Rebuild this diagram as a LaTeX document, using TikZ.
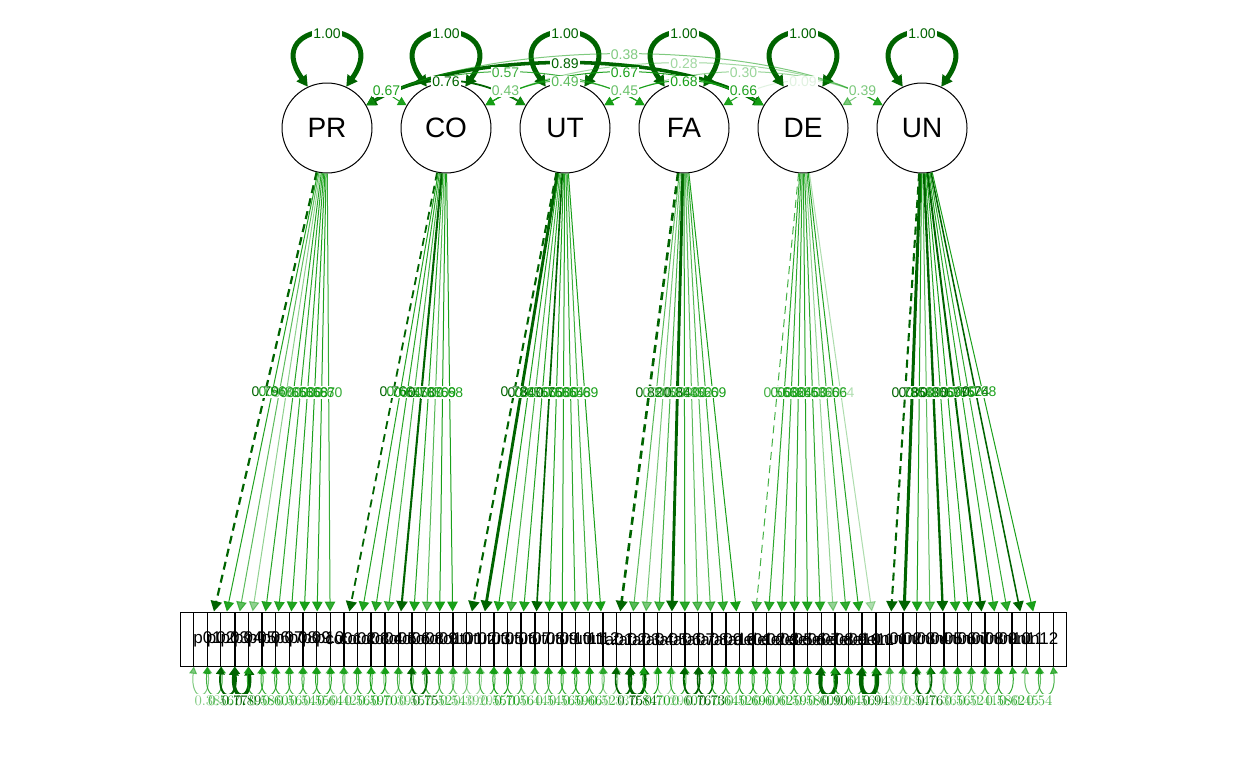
\documentclass[tikz,border=0pt]{standalone}
\usepackage{fontspec}
\setmainfont{Liberation Sans}
\usetikzlibrary{arrows.meta}
\definecolor{dkg}{RGB}{0,100,0}
\definecolor{mg}{RGB}{20,158,20}
\newcommand\setw[1]{%
  \pgfmathtruncatemacro\isdark{(#1>=0.7)}%
  \ifnum\isdark=1\relax
    \pgfmathsetmacro\ewidth{0.75*(1+4*(#1-0.7)/0.3)}%
    \def\ecol{dkg}\def\eop{1}%
  \else
    \def\ewidth{0.75}\def\ecol{mg}%
    \pgfmathsetmacro\eop{#1/0.7}%
  \fi}
\def\items{p01/PR/0.79/fx/0,p02/PR/0.66/fr/1,p03/PR/0.48/fr/2,p04/PR/0.33/fr/3,p05/PR/0.65/fr/4,p06/PR/0.63/fr/5,p07/PR/0.66/fr/6,p08/PR/0.68/fr/7,p09/PR/0.67/fr/8,p10/PR/0.60/fr/9,%
co01/CO/0.76/fx/10,co02/CO/0.66/fr/11,co03/CO/0.64/fr/12,co04/CO/0.55/fr/13,co05/CO/0.78/fr/14,co06/CO/0.67/fr/15,co08/CO/0.50/fr/16,co09/CO/0.69/fr/17,co10/CO/0.68/fr/18,%
ut01/UT/0.78/fx/19,ut02/UT/0.84/fr/20,ut03/UT/0.67/fr/21,ut05/UT/0.55/fr/22,ut06/UT/0.66/fr/23,ut07/UT/0.75/fr/24,ut08/UT/0.68/fr/25,ut09/UT/0.66/fr/26,ut10/UT/0.64/fr/27,ut11/UT/0.58/fr/28,ut12/UT/0.69/fr/29,%
fa01/FA/0.82/fx/30,fa02/FA/0.50/fr/31,fa03/FA/0.40/fr/32,fa04/FA/0.55/fr/33,fa05/FA/0.84/fr/34,fa06/FA/0.63/fr/35,fa07/FA/0.49/fr/36,fa08/FA/0.52/fr/37,fa09/FA/0.60/fr/38,fa10/FA/0.69/fr/39,%
de01/DE/0.56/fx/40,de02/DE/0.63/fr/41,de03/DE/0.62/fr/42,de05/DE/0.64/fr/43,de06/DE/0.65/fr/44,de07/DE/0.63/fr/45,de08/DE/0.32/fr/46,de09/DE/0.60/fr/47,de10/DE/0.66/fr/48,de11/DE/0.24/fr/49,%
un01/UN/0.78/fx/50,un02/UN/0.85/fr/51,un03/UN/0.68/fr/52,un04/UN/0.49/fr/53,un05/UN/0.80/fr/54,un06/UN/0.66/fr/55,un07/UN/0.69/fr/56,un08/UN/0.77/fr/57,un09/UN/0.65/fr/58,un10/UN/0.62/fr/59,un11/UN/0.74/fr/60,un12/UN/0.68/fr/61}
\def\covs{PR/CO/1/0.67/1,PR/UT/2/0.76/2,PR/FA/3/0.57/3,PR/DE/4/0.89/4,PR/UN/5/0.38/5,CO/UT/1/0.43/6,CO/FA/2/0.49/7,CO/DE/3/0.67/8,CO/UN/4/0.28/9,UT/FA/1/0.45/10,UT/DE/2/0.68/11,UT/UN/3/0.30/12,FA/DE/1/0.66/13,FA/UN/2/0.09/14,DE/UN/1/0.39/15}
\tikzset{
  ed/.style={draw=\ecol, draw opacity=\eop, fill opacity=\eop, line width=\ewidth pt},
  fx/.style={dash pattern=on 6pt off 4pt},
  fr/.style={},
  ltip/.style={-{Triangle[length=7pt 0.5,width=7.5pt 0.5]}},
  dtip/.style={{Triangle[length=6pt 0.6,width=6.5pt 0.6]}-{Triangle[length=6pt 0.6,width=6.5pt 0.6]}},
  rtip/.style={{Triangle[length=5pt 0.6,width=5.5pt 0.6]}-{Triangle[length=5pt 0.6,width=5.5pt 0.6]}},
  lat/.style={circle, draw=black, line width=0.75pt, fill=white, minimum size=67.5pt, inner sep=0pt, font=\fontsize{21}{21}\selectfont},
  man/.style={rectangle, draw=black, line width=0.75pt, minimum width=41.25pt, minimum height=40.5pt, inner sep=0pt, font=\fontsize{12.75}{13}\selectfont},
  elab/.style={font=\fontsize{10.5}{11}\selectfont, inner sep=0.8pt},
  rlab/.style={font=\fontsize{10.5}{11}\selectfont, inner sep=0.8pt},
}
\begin{document}
\begin{tikzpicture}[x=0.75pt,y=-0.75pt]
\useasboundingbox (0,0) rectangle (1248,768);
\fill[white] (0,0) rectangle (1248,768);
% latent variables
\foreach \lname/\lx in {PR/327,CO/446,UT/565,FA/684,DE/803,UN/922}
  \node[lat] (\lname) at (\lx,128) {\lname};
% manifest variables
\foreach \nm/\lt/\val/\st/\idx in \items
  \node[man] (\nm) at ({207.5+13.639*\idx},639) {\nm};
% loadings
\foreach \nm/\lt/\val/\st/\idx in \items {
  \setw{\val}
  \draw[ed, \st, ltip] (\lt) -- coordinate[pos=0.5] (L\idx) (\nm);
}
% residual variances
\foreach \nm/\lt/\val/\st/\idx in \items {
  \pgfmathsetmacro\res{1-\val*\val}
  \setw{\res}
  \ifnum\idx>59
    \draw[ed, rtip] (\nm.south) .. controls +(-4,36) and +(4,36) .. ([xshift=10.2pt]\nm.south);
  \else
    \draw[ed, rtip] (\nm.south) .. controls +(4,36) and +(-4,36) .. ([xshift=-10.2pt]\nm.south);
  \fi
}
% latent variances
\foreach \lname in {PR,CO,UT,FA,DE,UN} {
  \setw{1.00}
  \draw[ed, dtip] (\lname.115) .. controls +(-50,-71) and +(50,-71) .. coordinate[pos=0.5] (S\lname) (\lname.65);
}
% covariances
\foreach \a/\b/\d/\val/\k in \covs {
  \setw{\val}
  \pgfmathsetmacro\Lx{(15+24*\d)*0.866}
  \pgfmathsetmacro\Ly{-(15+24*\d)*0.5}
  \draw[ed, dtip] (\a.30) .. controls +(\Lx,\Ly) and +(-\Lx,\Ly) .. coordinate[pos=0.5] (C\k) (\b.150);
}
% label backgrounds
\foreach \nm/\lt/\val/\st/\idx in \items {
  \node[elab, fill=white] at (L\idx) {\phantom{\val}};
  \node[rlab, fill=white, yshift=-25.5pt] at (\nm.south) {\phantom{0.00}};
}
\foreach \a/\b/\d/\val/\k in \covs
  \node[elab, fill=white] at (C\k) {\phantom{\val}};
\foreach \lname in {PR,CO,UT,FA,DE,UN}
  \node[elab, fill=white] at (S\lname) {\phantom{1.00}};
% label texts
\foreach \nm/\lt/\val/\st/\idx in \items {
  \setw{\val}
  \node[elab, text=\ecol, text opacity=\eop] at (L\idx) {\val};
  \pgfmathsetmacro\res{1-\val*\val}
  \setw{\res}
  \node[rlab, text=\ecol, text opacity=\eop, yshift=-25.5pt] at (\nm.south) {\pgfmathprintnumber[fixed,precision=2,fixed zerofill]{\res}};
}
\foreach \a/\b/\d/\val/\k in \covs {
  \setw{\val}
  \node[elab, text=\ecol, text opacity=\eop] at (C\k) {\val};
}
\foreach \lname in {PR,CO,UT,FA,DE,UN}
  \node[elab, text=dkg] at (S\lname) {1.00};
\end{tikzpicture}
\end{document}
